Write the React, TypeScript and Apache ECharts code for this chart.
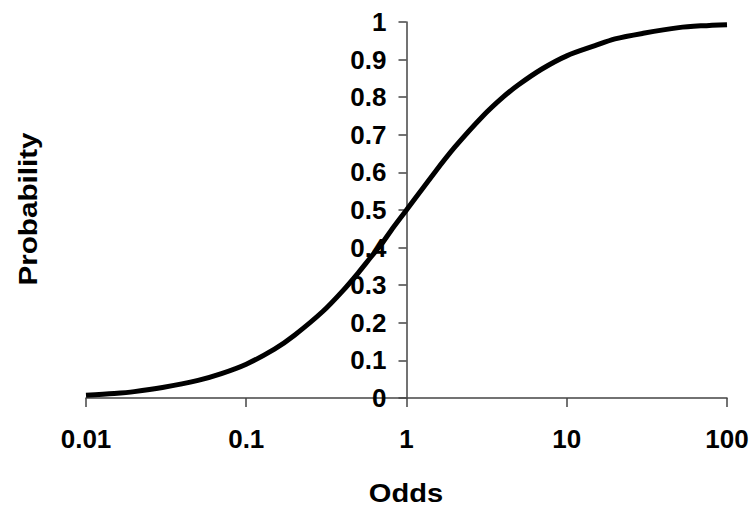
import React, { useEffect, useRef } from "react";
import * as echarts from "echarts";

const odds = [0.01, 0.015, 0.02, 0.03, 0.05, 0.07, 0.1, 0.15, 0.2, 0.3, 0.4, 0.5, 0.6, 0.7, 0.8, 1, 1.5, 2, 3, 4, 5, 7, 10, 15, 20, 30, 50, 70, 100];
const probability = [0.007, 0.012, 0.017, 0.028, 0.047, 0.065, 0.09, 0.13, 0.167, 0.23, 0.285, 0.333, 0.375, 0.41, 0.445, 0.5, 0.6, 0.667, 0.75, 0.8, 0.833, 0.875, 0.91, 0.937, 0.955, 0.97, 0.985, 0.99, 0.993];
const xTickLabels = ["0.01", "0.1", "1", "10", "100"];
const xTitle = "Odds";
const yTitle = "Probability";

const FONT = "'Liberation Sans', Arial, Helvetica, sans-serif";

export default function App() {
  const ref = useRef<HTMLDivElement>(null);
  useEffect(() => {
    if (!ref.current) return;
    const chart = echarts.init(ref.current, null, { renderer: "svg" });
    const gridLeft = 86, gridRight = 29, gridTop = 22, gridBottom = 109;
    const gridW = 756 - gridLeft - gridRight;
    chart.setOption({
      animation: false,
      backgroundColor: "#ffffff",
      grid: { left: gridLeft, right: gridRight, top: gridTop, bottom: gridBottom, containLabel: false, outerBoundsMode: "none" },
      xAxis: {
        type: "log",
        logBase: 10,
        min: 0.01,
        max: 100,
        axisLine: { show: true, lineStyle: { color: "#444", width: 1.5 } },
        axisTick: { show: true, inside: false, length: 9, lineStyle: { color: "#444", width: 1.5 } },
        minorTick: { show: false },
        splitLine: { show: false },
        axisLabel: {
          margin: 28,
          color: "#000",
          fontFamily: FONT,
          fontWeight: "bold",
          fontSize: 26,
          formatter: (v: number) => {
            const i = Math.round(Math.log10(v)) + 2;
            return xTickLabels[i] ?? String(v);
          },
        },
      },
      yAxis: {
        type: "value",
        min: 0,
        max: 1,
        interval: 0.1,
        position: "left",
        offset: -gridW / 2,
        axisLine: { show: true, lineStyle: { color: "#444", width: 1.5 } },
        axisTick: { show: true, inside: false, length: 8, lineStyle: { color: "#444", width: 1.5 } },
        splitLine: { show: false },
        axisLabel: {
          margin: 20,
          color: "#000",
          fontFamily: FONT,
          fontWeight: "bold",
          fontSize: 26,
          formatter: (v: number) => String(Math.round(v * 10) / 10),
        },
      },
      series: [
        {
          type: "line",
          data: odds.map((o, i) => [o, probability[i]]),
          showSymbol: false,
          smooth: 0.3,
          lineStyle: { color: "#000", width: 5 },
          clip: false,
        },
      ],
      graphic: [
        {
          type: "text",
          x: 406,
          y: 493,
          style: { text: xTitle, font: `bold 26px ${FONT}`, fill: "#000", align: "center", verticalAlign: "middle" },
          scaleX: 1.12,
        },
        {
          type: "text",
          x: 28,
          y: 209,
          rotation: Math.PI / 2,
          scaleX: 1.14,
          style: { text: yTitle, font: `bold 26px ${FONT}`, fill: "#000", align: "center", verticalAlign: "middle" },
        },
      ],
    });
    return () => chart.dispose();
  }, []);
  return <div ref={ref} style={{ position: "fixed", left: 0, top: 0, width: 756, height: 507 }} />;
}
